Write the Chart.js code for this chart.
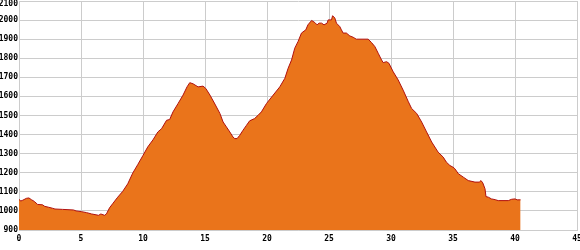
<!DOCTYPE html>
<html>
<head>
<meta charset="utf-8">
<script src="https://cdn.jsdelivr.net/npm/chart.js@4"></script>
<style>
html,body{margin:0;padding:0;background:#fff;}
canvas{display:block;}
</style>
</head>
<body>
<canvas id="c" width="580" height="250"></canvas>
<script>
const distanceKm = [0.0,0.15,0.3,0.6,0.8,1.0,1.23,1.5,1.9,2.07,2.4,2.7,2.9,3.5,4.4,4.6,5.05,5.45,5.86,6.42,6.6,6.9,7.05,7.3,7.58,7.96,8.36,8.77,9.17,9.57,10.0,10.38,10.8,11.2,11.5,11.9,12.15,12.42,12.83,13.23,13.55,13.77,14.04,14.44,14.84,15.06,15.4,15.8,16.2,16.46,16.73,17.0,17.26,17.4,17.59,17.8,18.07,18.35,18.6,19.0,19.28,19.55,19.96,20.5,21.03,21.44,21.7,21.98,22.24,22.5,22.78,23.13,23.3,23.6,23.86,24.04,24.2,24.4,24.6,24.85,24.93,25.2,25.29,25.47,25.6,25.87,26.0,26.14,26.4,26.68,26.95,27.2,28.16,28.43,28.7,28.97,29.24,29.37,29.64,29.83,30.18,30.58,30.98,31.4,31.66,32.07,32.47,32.87,33.28,33.8,34.21,34.46,34.75,35.0,35.15,35.43,35.83,36.23,36.77,37.12,37.26,37.4,37.58,37.66,37.85,38.1,38.4,38.65,39.46,39.73,40.0,40.18,40.45];
const elevationM = [1060,1052,1056,1066,1068,1059,1050,1034,1032,1024,1019,1014,1010,1008,1005,1000,996,991,984,977,984,977,984,1016,1040,1072,1102,1142,1198,1242,1291,1335,1372,1414,1431,1475,1479,1519,1563,1607,1650,1672,1666,1650,1654,1642,1607,1560,1511,1466,1440,1414,1387,1379,1379,1396,1423,1449,1472,1484,1501,1519,1563,1607,1650,1695,1747,1791,1853,1887,1932,1949,1975,1998,1987,1975,1984,1984,1975,1984,2001,2001,2023,2011,1984,1966,1949,1932,1932,1917,1910,1900,1900,1882,1861,1826,1791,1777,1782,1774,1729,1686,1633,1572,1537,1511,1466,1414,1361,1308,1282,1256,1238,1229,1221,1195,1177,1159,1151,1151,1159,1147,1116,1075,1072,1063,1059,1054,1054,1061,1063,1058,1058];
const xTicks = [0,5,10,15,20,25,30,35,40,45];
const yTicks = [900,1000,1100,1200,1300,1400,1500,1600,1700,1800,1900,2000,2100];

const points = distanceKm.map((d, i) => ({x: d, y: elevationM[i]}));
const tickFont = {family: 'DejaVu Sans Mono', size: 8, weight: 'bold'};
const yMax = yTicks[yTicks.length - 1];

new Chart(document.getElementById('c'), {
  type: 'line',
  data: {
    datasets: [{
      data: points,
      borderColor: '#B0100E',
      borderWidth: 1,
      backgroundColor: '#EA741B',
      fill: 'start',
      pointRadius: 0,
      tension: 0
    }]
  },
  options: {
    responsive: false,
    animation: false,
    events: [],
    layout: {padding: {top: 1, right: 3, left: 0, bottom: 0}},
    plugins: {legend: {display: false}, tooltip: {enabled: false}},
    scales: {
      x: {
        type: 'linear',
        min: xTicks[0],
        max: xTicks[xTicks.length - 1],
        afterBuildTicks: s => { s.ticks = xTicks.map(v => ({value: v})); },
        afterFit: s => { s.height = 20; s.paddingLeft = 0; s.paddingRight = 0; },
        grid: {color: '#cccccc', lineWidth: 1, drawTicks: false},
        border: {display: true, color: '#cccccc'},
        ticks: {font: tickFont, color: '#000', padding: 4, maxRotation: 0, autoSkip: false, callback: v => String(v)}
      },
      y: {
        type: 'linear',
        min: yTicks[0],
        max: yMax,
        afterBuildTicks: s => { s.ticks = yTicks.map(v => ({value: v})); },
        afterFit: s => { s.width = 19; s.paddingTop = 0; s.paddingBottom = 0; },
        grid: {color: '#cccccc', lineWidth: 1, drawTicks: false},
        border: {display: true, color: '#cccccc'},
        ticks: {
          font: ctx => (ctx.tick && ctx.tick.value === yMax) ? Object.assign({}, tickFont, {lineHeight: 0.7}) : tickFont,
          color: '#000', padding: 1, autoSkip: false,
          callback: v => v === yMax ? ['', String(v)] : String(v)
        }
      }
    }
  }
});
</script>
</body>
</html>
